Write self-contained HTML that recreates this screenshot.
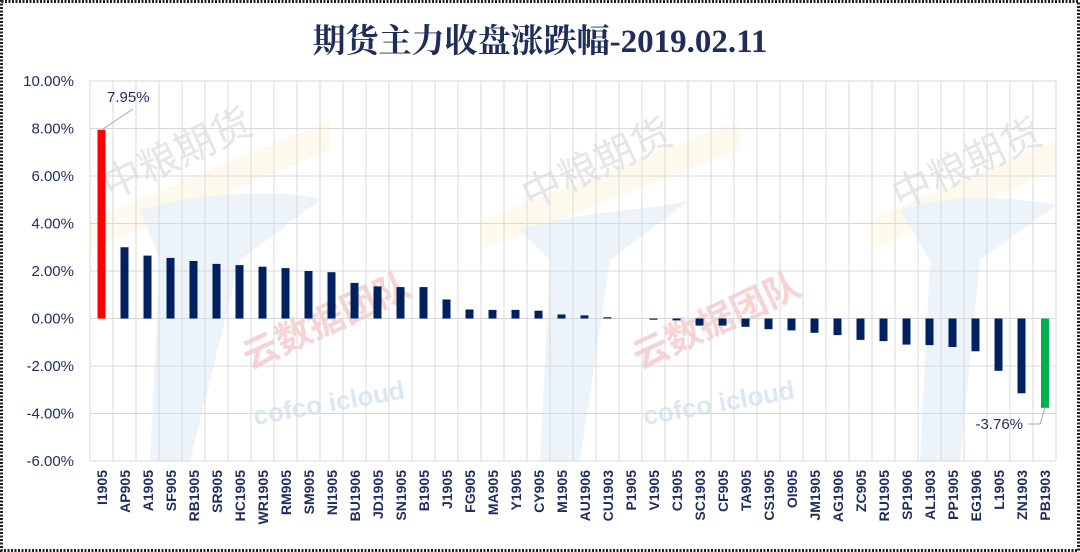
<!DOCTYPE html>
<html><head><meta charset="utf-8"><style>
body{margin:0;background:#fff}
svg{display:block;font-family:"Liberation Sans","Noto Sans CJK SC",sans-serif}
</style></head><body>
<svg width="1080" height="552" viewBox="0 0 1080 552" xmlns="http://www.w3.org/2000/svg">
<rect x="1.5" y="1.5" width="1077" height="549" fill="#fff" stroke="#222" stroke-width="3" stroke-dasharray="2,1.5"/>
<g opacity="0.18">
<path d="M90 220 L330 120 L330 150 L90 250Z" fill="#f5e9a0"/>
<path d="M480 220 L740 120 L740 150 L480 250Z" fill="#f5e9a0"/>
<path d="M870 220 L1056 140 L1056 170 L870 250Z" fill="#f5e9a0"/>
<path d="M140 210 C200 190 300 190 320 200 L240 260 L190 461 L150 461 L160 260Z" fill="#9cc2e0"/>
<path d="M520 230 C580 210 660 210 690 200 L610 260 L580 461 L540 461 L550 260Z" fill="#9cc2e0"/>
<path d="M900 210 C960 190 1030 200 1056 205 L980 260 L960 461 L920 461 L930 260Z" fill="#9cc2e0"/>
</g>
<text x="110" y="200" font-size="40" fill="#e6e6e6" transform="rotate(-25 110 200)">中粮期货</text>
<text x="530" y="210" font-size="40" fill="#e6e6e6" transform="rotate(-25 530 210)">中粮期货</text>
<text x="900" y="210" font-size="40" fill="#e6e6e6" transform="rotate(-25 900 210)">中粮期货</text>
<text x="250" y="370" font-size="36" font-weight="bold" fill="#f8d3d3" transform="rotate(-25 250 370)">云数据团队</text>
<text x="640" y="370" font-size="36" font-weight="bold" fill="#f8d3d3" transform="rotate(-25 640 370)">云数据团队</text>
<text x="255" y="425" font-size="26" font-weight="bold" fill="#dbe8f4" transform="rotate(-10 255 425)">cofco icloud</text>
<text x="645" y="425" font-size="26" font-weight="bold" fill="#dbe8f4" transform="rotate(-10 645 425)">cofco icloud</text>

<text x="540" y="52" text-anchor="middle" font-family="Liberation Serif,'Noto Serif CJK SC',serif" font-size="33" font-weight="bold" fill="#1f2d5a">期货主力收盘涨跌幅-2019.02.11</text>

<g stroke="#d9d9d9" stroke-width="1">
<line x1="90" x2="1056" y1="81" y2="81"/><line x1="90" x2="1056" y1="128.5" y2="128.5"/><line x1="90" x2="1056" y1="176" y2="176"/><line x1="90" x2="1056" y1="223.5" y2="223.5"/><line x1="90" x2="1056" y1="271" y2="271"/><line x1="90" x2="1056" y1="318.5" y2="318.5"/><line x1="90" x2="1056" y1="366" y2="366"/><line x1="90" x2="1056" y1="413.5" y2="413.5"/><line x1="90" x2="1056" y1="461" y2="461"/>
<line x1="90" x2="90" y1="81" y2="461"/><line x1="113" x2="113" y1="81" y2="461"/><line x1="136" x2="136" y1="81" y2="461"/><line x1="159" x2="159" y1="81" y2="461"/><line x1="182" x2="182" y1="81" y2="461"/><line x1="205" x2="205" y1="81" y2="461"/><line x1="228" x2="228" y1="81" y2="461"/><line x1="251" x2="251" y1="81" y2="461"/><line x1="274" x2="274" y1="81" y2="461"/><line x1="297" x2="297" y1="81" y2="461"/><line x1="320" x2="320" y1="81" y2="461"/><line x1="343" x2="343" y1="81" y2="461"/><line x1="366" x2="366" y1="81" y2="461"/><line x1="389" x2="389" y1="81" y2="461"/><line x1="412" x2="412" y1="81" y2="461"/><line x1="435" x2="435" y1="81" y2="461"/><line x1="458" x2="458" y1="81" y2="461"/><line x1="481" x2="481" y1="81" y2="461"/><line x1="504" x2="504" y1="81" y2="461"/><line x1="527" x2="527" y1="81" y2="461"/><line x1="550" x2="550" y1="81" y2="461"/><line x1="573" x2="573" y1="81" y2="461"/><line x1="596" x2="596" y1="81" y2="461"/><line x1="619" x2="619" y1="81" y2="461"/><line x1="642" x2="642" y1="81" y2="461"/><line x1="665" x2="665" y1="81" y2="461"/><line x1="688" x2="688" y1="81" y2="461"/><line x1="711" x2="711" y1="81" y2="461"/><line x1="734" x2="734" y1="81" y2="461"/><line x1="757" x2="757" y1="81" y2="461"/><line x1="780" x2="780" y1="81" y2="461"/><line x1="803" x2="803" y1="81" y2="461"/><line x1="826" x2="826" y1="81" y2="461"/><line x1="849" x2="849" y1="81" y2="461"/><line x1="872" x2="872" y1="81" y2="461"/><line x1="895" x2="895" y1="81" y2="461"/><line x1="918" x2="918" y1="81" y2="461"/><line x1="941" x2="941" y1="81" y2="461"/><line x1="964" x2="964" y1="81" y2="461"/><line x1="987" x2="987" y1="81" y2="461"/><line x1="1010" x2="1010" y1="81" y2="461"/><line x1="1033" x2="1033" y1="81" y2="461"/><line x1="1056" x2="1056" y1="81" y2="461"/>
</g>

<g font-size="15" fill="#1f2d5a" text-anchor="end">
<text x="74" y="86">10.00%</text><text x="74" y="133.5">8.00%</text><text x="74" y="181">6.00%</text><text x="74" y="228.5">4.00%</text><text x="74" y="276">2.00%</text><text x="74" y="323.5">0.00%</text><text x="74" y="371">-2.00%</text><text x="74" y="418.5">-4.00%</text><text x="74" y="466">-6.00%</text>
</g>

<rect x="97.5" y="129.7" width="8" height="188.8" fill="#ff0000"/>
<g fill="#002060">
<rect x="120.5" y="247.25" width="8" height="71.25"/>
<rect x="143.5" y="255.6" width="8" height="62.9"/>
<rect x="166.5" y="257.9" width="8" height="60.6"/>
<rect x="189.5" y="261" width="8" height="57.5"/>
<rect x="212.5" y="263.9" width="8" height="54.6"/>
<rect x="235.5" y="265.1" width="8" height="53.4"/>
<rect x="258.5" y="266.7" width="8" height="51.8"/>
<rect x="281.5" y="268.1" width="8" height="50.4"/>
<rect x="304.5" y="271" width="8" height="47.5"/>
<rect x="327.5" y="272.2" width="8" height="46.3"/>
<rect x="350.5" y="282.9" width="8" height="35.6"/>
<rect x="373.5" y="286.4" width="8" height="32.1"/>
<rect x="396.5" y="287.1" width="8" height="31.4"/>
<rect x="419.5" y="287.1" width="8" height="31.4"/>
<rect x="442.5" y="299.5" width="8" height="19"/>
<rect x="465.5" y="309.5" width="8" height="9"/>
<rect x="488.5" y="309.9" width="8" height="8.6"/>
<rect x="511.5" y="309.9" width="8" height="8.6"/>
<rect x="534.5" y="310.7" width="8" height="7.8"/>
<rect x="557.5" y="314.5" width="8" height="4"/>
<rect x="580.5" y="315.4" width="8" height="3.1"/>
<rect x="603.5" y="317.3" width="8" height="1.2"/>
<rect x="649.5" y="318.5" width="8" height="1.2"/>
<rect x="672.5" y="318.5" width="8" height="1.9"/>
<rect x="695.5" y="318.5" width="8" height="7.1"/>
<rect x="718.5" y="318.5" width="8" height="7.1"/>
<rect x="741.5" y="318.5" width="8" height="8.3"/>
<rect x="764.5" y="318.5" width="8" height="10.7"/>
<rect x="787.5" y="318.5" width="8" height="11.9"/>
<rect x="810.5" y="318.5" width="8" height="14.3"/>
<rect x="833.5" y="318.5" width="8" height="16.6"/>
<rect x="856.5" y="318.5" width="8" height="21.4"/>
<rect x="879.5" y="318.5" width="8" height="22.6"/>
<rect x="902.5" y="318.5" width="8" height="26.1"/>
<rect x="925.5" y="318.5" width="8" height="26.6"/>
<rect x="948.5" y="318.5" width="8" height="28.5"/>
<rect x="971.5" y="318.5" width="8" height="32.8"/>
<rect x="994.5" y="318.5" width="8" height="52.3"/>
<rect x="1017.5" y="318.5" width="8" height="74.8"/>
</g>
<rect x="1041" y="318.5" width="8" height="89.3" fill="#00b050"/>

<line x1="103" y1="129" x2="133" y2="109" stroke="#aaa"/>
<text x="107" y="102" font-size="15" fill="#1f2d5a">7.95%</text>
<path d="M1045 408 L1040 424 L1028 424" stroke="#aaa" fill="none"/>
<text x="1023" y="429" font-size="15" fill="#1f2d5a" text-anchor="end">-3.76%</text>

<g font-size="14" fill="#1f2d5a" text-anchor="end" style="font-weight:600">
<text transform="translate(107,470) rotate(-90)">I1905</text>
<text transform="translate(130,470) rotate(-90)">AP905</text>
<text transform="translate(153,470) rotate(-90)">A1905</text>
<text transform="translate(176,470) rotate(-90)">SF905</text>
<text transform="translate(199,470) rotate(-90)">RB1905</text>
<text transform="translate(222,470) rotate(-90)">SR905</text>
<text transform="translate(245,470) rotate(-90)">HC1905</text>
<text transform="translate(268,470) rotate(-90)">WR1905</text>
<text transform="translate(291,470) rotate(-90)">RM905</text>
<text transform="translate(314,470) rotate(-90)">SM905</text>
<text transform="translate(337,470) rotate(-90)">NI1905</text>
<text transform="translate(360,470) rotate(-90)">BU1906</text>
<text transform="translate(383,470) rotate(-90)">JD1905</text>
<text transform="translate(406,470) rotate(-90)">SN1905</text>
<text transform="translate(429,470) rotate(-90)">B1905</text>
<text transform="translate(452,470) rotate(-90)">J1905</text>
<text transform="translate(475,470) rotate(-90)">FG905</text>
<text transform="translate(498,470) rotate(-90)">MA905</text>
<text transform="translate(521,470) rotate(-90)">Y1905</text>
<text transform="translate(544,470) rotate(-90)">CY905</text>
<text transform="translate(567,470) rotate(-90)">M1905</text>
<text transform="translate(590,470) rotate(-90)">AU1906</text>
<text transform="translate(613,470) rotate(-90)">CU1903</text>
<text transform="translate(636,470) rotate(-90)">P1905</text>
<text transform="translate(659,470) rotate(-90)">V1905</text>
<text transform="translate(682,470) rotate(-90)">C1905</text>
<text transform="translate(705,470) rotate(-90)">SC1903</text>
<text transform="translate(728,470) rotate(-90)">CF905</text>
<text transform="translate(751,470) rotate(-90)">TA905</text>
<text transform="translate(774,470) rotate(-90)">CS1905</text>
<text transform="translate(797,470) rotate(-90)">OI905</text>
<text transform="translate(820,470) rotate(-90)">JM1905</text>
<text transform="translate(843,470) rotate(-90)">AG1906</text>
<text transform="translate(866,470) rotate(-90)">ZC905</text>
<text transform="translate(889,470) rotate(-90)">RU1905</text>
<text transform="translate(912,470) rotate(-90)">SP1906</text>
<text transform="translate(935,470) rotate(-90)">AL1903</text>
<text transform="translate(958,470) rotate(-90)">PP1905</text>
<text transform="translate(981,470) rotate(-90)">EG1906</text>
<text transform="translate(1004,470) rotate(-90)">L1905</text>
<text transform="translate(1027,470) rotate(-90)">ZN1903</text>
<text transform="translate(1050,470) rotate(-90)">PB1903</text>
</g>
</svg>
</body></html>
